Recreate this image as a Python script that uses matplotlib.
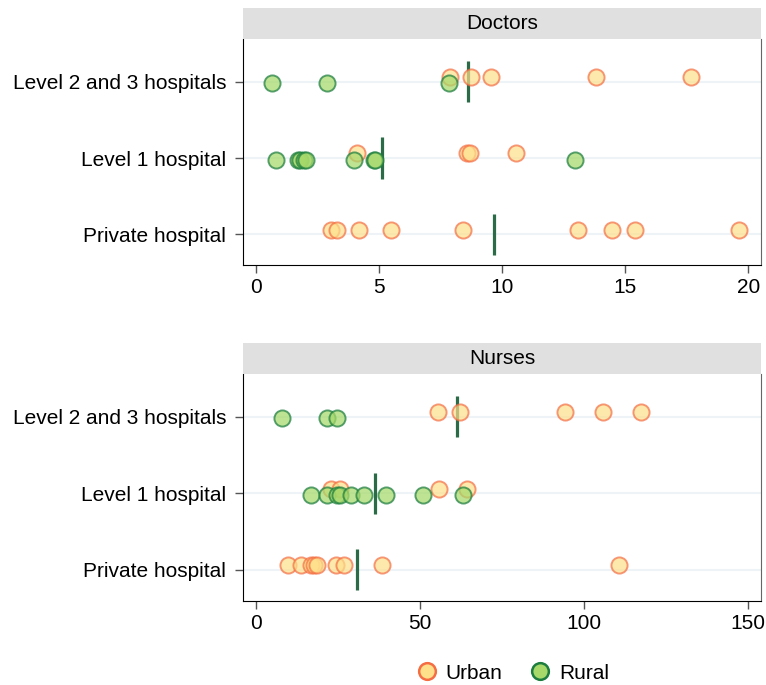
import matplotlib.pyplot as plt
import numpy as np

plt.rcParams['font.family'] = ['Liberation Sans', 'DejaVu Sans']

# facilities, bottom row first
facilities = ['Private hospital', 'Level 1 hospital', 'Level 2 and 3 hospitals']

# doctors per facility, one list per facility type (same order as above)
doctors_urban = [
    [3.04, 3.31, 4.21, 5.48, 8.43, 13.10, 14.48, 15.40, 19.64],
    [4.10, 8.58, 8.71, 10.59],
    [7.87, 8.74, 9.57, 13.80, 17.68],
]
doctors_rural = [
    [],
    [0.84, 1.70, 1.80, 1.95, 2.02, 3.98, 4.80, 4.84, 12.98],
    [0.64, 2.88, 7.83],
]

# nurses per facility
nurses_urban = [
    [9.7, 13.9, 16.7, 17.7, 18.5, 24.4, 27.0, 38.6, 110.6],
    [22.8, 25.6, 55.7, 64.3],
    [55.5, 62.3, 94.1, 105.9, 117.3],
]
nurses_rural = [
    [],
    [16.8, 21.6, 24.6, 25.6, 29.1, 33.1, 39.7, 50.9, 63.1],
    [8.04, 21.8, 24.7],
]

doctor_ticks = [0, 5, 10, 15, 20]
nurse_ticks = [0, 50, 100, 150]

URBAN_FACE, URBAN_EDGE = '#fee08b', '#f46d43'
RURAL_FACE, RURAL_EDGE = '#a6d96a', '#1c7d3e'
MEAN_COLOR = '#2b6b47'

fig = plt.figure(figsize=(7.66, 6.85), dpi=100)


def panel(bottom, height, title, urban, rural, xticks):
    ax = fig.add_axes([0.3172, bottom, 0.6762, height])
    strip = fig.add_axes([0.3172, bottom + height, 0.6762, 0.0457])
    strip.set_facecolor('#e0e0e0')
    strip.set_xticks([])
    strip.set_yticks([])
    for s in strip.spines.values():
        s.set_visible(False)
    strip.text(0.5, 0.5, title, ha='center', va='center', fontsize=15,
               transform=strip.transAxes)

    for i in range(len(facilities)):
        ax.axhline(i, color='#edf3f6', lw=1.5, zorder=0)
        allvals = urban[i] + rural[i]
        ax.plot([np.mean(allvals)] * 2, [i - 0.27, i + 0.27],
                color=MEAN_COLOR, lw=2.3, zorder=2, solid_capstyle='butt')
        ax.scatter(urban[i], [i + 0.06] * len(urban[i]), s=135,
                   facecolor=URBAN_FACE, edgecolor=URBAN_EDGE, lw=1.4,
                   alpha=0.7, zorder=3)
        ax.scatter(rural[i], [i - 0.02] * len(rural[i]), s=135,
                   facecolor=RURAL_FACE, edgecolor=RURAL_EDGE, lw=1.4,
                   alpha=0.72, zorder=4)

    span = xticks[-1] - xticks[0]
    ax.set_xlim(xticks[0] - span * 0.026, xticks[-1] + span * 0.026)
    ax.set_ylim(-0.41, 2.56)
    ax.set_xticks(xticks)
    ax.set_yticks(range(len(facilities)))
    ax.set_yticklabels(facilities)
    ax.tick_params(axis='y', length=6, width=1, color='#555555', pad=6,
                   labelsize=15)
    ax.tick_params(axis='x', length=5.5, width=1, color='#555555', pad=4,
                   labelsize=15)
    ax.spines['top'].set_visible(False)
    ax.spines['right'].set_color('#666666')
    ax.spines['left'].set_color('black')
    ax.spines['bottom'].set_color('black')
    return ax


panel(0.6127, 0.3299, 'Doctors', doctors_urban, doctors_rural, doctor_ticks)
panel(0.1226, 0.3314, 'Nurses', nurses_urban, nurses_rural, nurse_ticks)

handles = [
    plt.Line2D([], [], ls='none', marker='o', ms=12, mfc=URBAN_FACE,
               mec=URBAN_EDGE, mew=1.8, label='Urban'),
    plt.Line2D([], [], ls='none', marker='o', ms=12, mfc=RURAL_FACE,
               mec=RURAL_EDGE, mew=1.8, label='Rural'),
]
fig.legend(handles=handles, loc='center', bbox_to_anchor=(0.668, 0.0175),
           ncol=2, frameon=False, fontsize=15, handletextpad=0.3,
           columnspacing=1.2, handlelength=1.2)

fig.savefig('out.png', dpi=100)
